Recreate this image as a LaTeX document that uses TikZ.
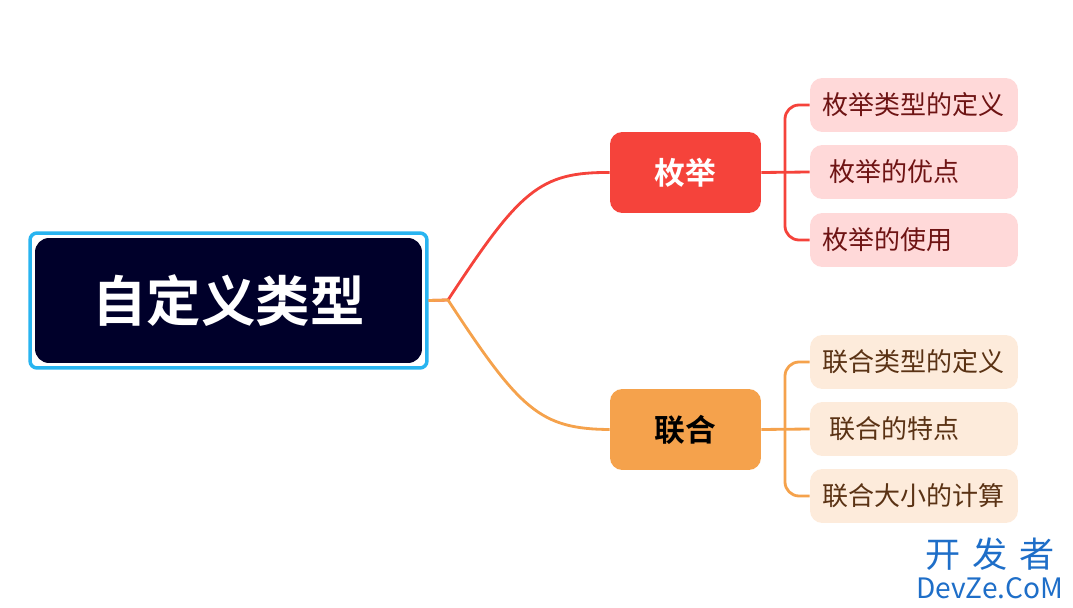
\documentclass[tikz,border=0pt]{standalone}
\usepackage{fontspec}
\newfontfamily\cjk{Noto Sans CJK SC}
\newfontfamily\cjkb{Noto Sans CJK SC Bold}
\begin{document}
\begin{tikzpicture}[x=0.02cm,y=-0.02cm,
  mid/.style={rounded corners=7pt,minimum width=3.02cm,minimum height=1.62cm,font=\cjkb\fontsize{17.5}{20}\selectfont},
  leaf/.style={rounded corners=7pt,minimum width=4.16cm,minimum height=1.08cm,inner xsep=0.24cm,text width=3.68cm,align=left,font=\cjk\fontsize{14.8}{17}\selectfont},
  rl/.style={line width=1.6pt}]
\useasboundingbox (0,0) rectangle (1073,608);
\definecolor{rootc}{HTML}{00002A}
\definecolor{redc}{HTML}{F5433B}
\definecolor{orc}{HTML}{F5A24C}
\definecolor{pinkc}{HTML}{FFD9D9}
\definecolor{peachc}{HTML}{FDEBDB}
\node[draw={rgb,255:red,40;green,180;blue,240},line width=2pt,rounded corners=4pt,minimum width=7.94cm,minimum height=2.7cm] (rootb) at (228.5,300.5) {};
\node[fill=rootc,rounded corners=8pt,minimum width=7.74cm,minimum height=2.5cm,text=white,font=\cjkb\fontsize{31}{36}\selectfont] (root) at (228.5,300.5) {自定义类型\hspace{0.25em}};
\coordinate (j) at (448,300);
\node[mid,fill=redc,text=white] (a) at (685.5,172.5) {枚举\hspace{0.5em}};
\node[mid,fill=orc,text=black] (b) at (685.5,429.5) {联合\hspace{0.5em}};
\draw[rl,draw=redc] (rootb.east) -- (j) .. controls (520,190) and (540,172) .. (a.west);
\draw[rl,draw=orc] (rootb.east) -- (j) .. controls (520,410) and (540,429) .. (b.west);
\node[leaf,fill=pinkc,text={rgb,255:red,110;green,20;blue,20}] (a1) at (914,105) {枚举类型的定义};
\node[leaf,fill=pinkc,text={rgb,255:red,110;green,20;blue,20}] (a2) at (914,172) {\hspace{0.3em}枚举的优点};
\node[leaf,fill=pinkc,text={rgb,255:red,110;green,20;blue,20}] (a3) at (914,240) {枚举的使用};
\node[leaf,fill=peachc,text={rgb,255:red,90;green,50;blue,20}] (b1) at (914,362) {联合类型的定义};
\node[leaf,fill=peachc,text={rgb,255:red,90;green,50;blue,20}] (b2) at (914,429) {\hspace{0.3em}联合的特点};
\node[leaf,fill=peachc,text={rgb,255:red,90;green,50;blue,20}] (b3) at (914,496) {联合大小的计算};
\coordinate (ja) at (785,172);
\coordinate (jb) at (785,429);
\draw[rl,draw=redc] (a.east) -- (a2.west);
\draw[rl,draw=redc,rounded corners=8pt] (a1.west) -- (ja|-a1.west) -- (ja|-a3.west) -- (a3.west);
\draw[rl,draw=orc] (b.east) -- (b2.west);
\draw[rl,draw=orc,rounded corners=8pt] (b1.west) -- (jb|-b1.west) -- (jb|-b3.west) -- (b3.west);
\node[text={rgb,255:red,30;green,110;blue,200},font=\cjk\fontsize{20}{22}\selectfont,inner sep=0] (w1) at (990,554) {开\,\,发\,\,者};
\node[text={rgb,255:red,30;green,110;blue,200},font=\cjk\fontsize{16}{18}\selectfont,inner sep=0] (w2) at (990,588) {DevZe.CoM};
\end{tikzpicture}
\end{document}
